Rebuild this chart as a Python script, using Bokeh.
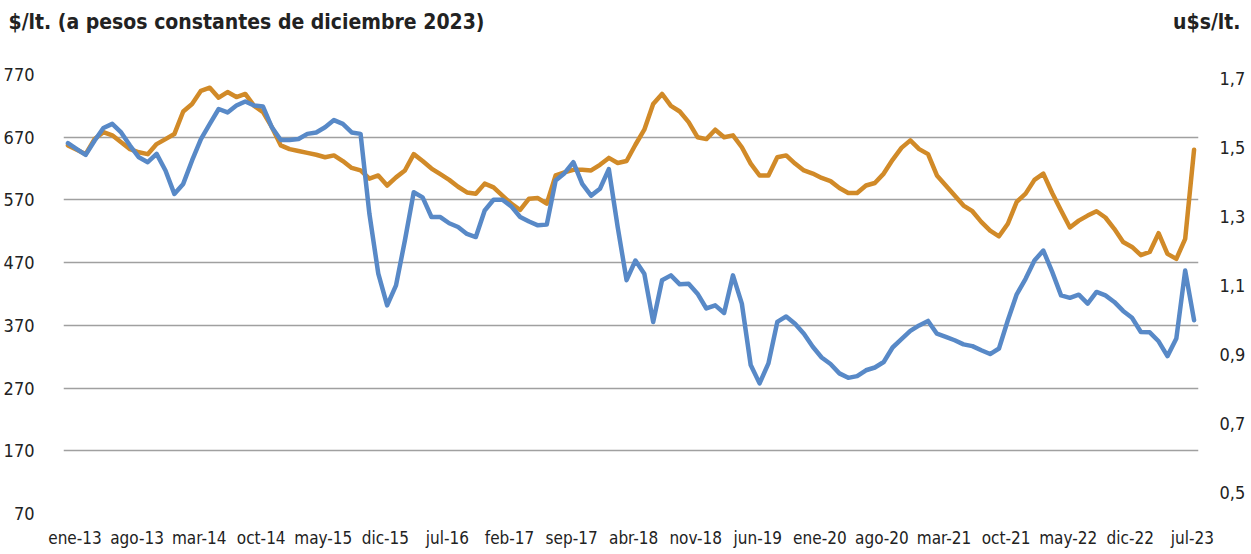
from bokeh.plotting import figure
from bokeh.models import Range1d, LinearAxis, FixedTicker, Label
from bokeh.layouts import column
from bokeh.embed import file_html
from bokeh.resources import INLINE

# Monthly series, ene-13 .. ago-23 (128 months)
precio_pesos = [
    657, 650, 643, 667, 678, 673, 662, 651, 646, 643, 659, 667, 675, 711, 723, 744,
    749, 733, 742, 734, 739, 720, 710, 686, 657, 651, 648, 645, 642, 638, 641, 632,
    621, 617, 604, 609, 593, 606, 617, 643, 632, 620, 611, 602, 591, 582, 580, 596,
    590, 577, 564, 554, 572, 573, 564, 609, 614, 618, 618, 617, 626, 637, 629, 632,
    658, 682, 723, 739, 720, 711, 694, 670, 667, 682, 670, 673, 654, 628, 609, 609,
    638, 641, 628, 617, 612, 605, 600, 589, 581, 581, 593, 597, 612, 634, 653, 665,
    651, 643, 609, 593, 577, 561, 552, 535, 521, 512, 532, 567, 580, 602, 612, 581,
    553, 526, 537, 545, 552, 542, 524, 503, 495, 482, 487, 517, 484, 476, 508, 650,
]
precio_usd = [
    1.513, 1.496, 1.479, 1.520, 1.557, 1.569, 1.544, 1.506, 1.472, 1.458, 1.482, 1.434,
    1.366, 1.395, 1.463, 1.525, 1.569, 1.612, 1.602, 1.622, 1.634, 1.622, 1.619, 1.559,
    1.522, 1.522, 1.525, 1.540, 1.544, 1.559, 1.580, 1.569, 1.544, 1.540, 1.308, 1.135,
    1.043, 1.101, 1.231, 1.371, 1.356, 1.299, 1.299, 1.281, 1.270, 1.250, 1.241, 1.318,
    1.349, 1.349, 1.330, 1.299, 1.286, 1.275, 1.277, 1.405, 1.426, 1.458, 1.395, 1.361,
    1.381, 1.438, 1.270, 1.116, 1.173, 1.135, 0.995, 1.116, 1.130, 1.104, 1.106, 1.077,
    1.034, 1.043, 1.021, 1.130, 1.048, 0.870, 0.817, 0.875, 0.995, 1.011, 0.990, 0.961,
    0.923, 0.892, 0.873, 0.846, 0.833, 0.838, 0.855, 0.863, 0.879, 0.921, 0.945, 0.969,
    0.985, 0.998, 0.961, 0.952, 0.942, 0.930, 0.925, 0.913, 0.902, 0.918, 1.000, 1.075,
    1.120, 1.173, 1.202, 1.140, 1.072, 1.065, 1.074, 1.048, 1.082, 1.072, 1.053, 1.027,
    1.007, 0.966, 0.965, 0.939, 0.896, 0.947, 1.144, 1.000,
]
x_labels = ["ene-13", "ago-13", "mar-14", "oct-14", "may-15", "dic-15", "jul-16",
            "feb-17", "sep-17", "abr-18", "nov-18", "jun-19", "ene-20", "ago-20",
            "mar-21", "oct-21", "may-22", "dic-22", "jul-23"]
left_ticks = [70, 170, 270, 370, 470, 570, 670, 770]
right_ticks = [0.5, 0.7, 0.9, 1.1, 1.3, 1.5, 1.7]
right_labels = ["0,5", "0,7", "0,9", "1,1", "1,3", "1,5", "1,7"]
title_left = "$/lt. (a pesos constantes de diciembre 2023)"
title_right = "u$s/lt."

FONT = "DejaVu Sans Condensed"
ORANGE = "#D18A28"
BLUE = "#5889C7"
TXT = "#222222"

n = len(precio_pesos)
xs = list(range(n))

W = 1248
HT = 64           # title strip
H = 486           # chart
ML, MR, MT, MB = 62, 45, 10, 34

# ---- title strip (own small figure, frame covering the whole strip)
top = figure(width=W, height=HT, x_range=Range1d(0, W), y_range=Range1d(0, HT),
             output_backend="svg", toolbar_location=None,
             x_axis_type=None, y_axis_type=None,
             min_border_left=0, min_border_right=0, min_border_top=0,
             min_border_bottom=0)
top.outline_line_color = None
top.grid.visible = False
top.add_layout(Label(x=8, y=HT - 21, text=title_left, text_font=FONT,
                     text_font_style="bold", text_font_size="21px",
                     text_color=TXT, text_baseline="middle", text_align="left"))
top.add_layout(Label(x=1240, y=HT - 21, text=title_right, text_font=FONT,
                     text_font_style="bold", text_font_size="21px",
                     text_color=TXT, text_baseline="middle", text_align="right"))

# ---- main chart
p = figure(width=W, height=H, x_range=Range1d(-0.5, n - 0.5),
           y_range=Range1d(70, 770), output_backend="svg", toolbar_location=None,
           min_border_left=ML, min_border_right=MR, min_border_top=MT,
           min_border_bottom=MB)
p.extra_y_ranges = {"usd": Range1d(0.44, 1.712)}
p.outline_line_color = None

# do not let the column layout align the two frames
try:
    top.frame_align = False
    p.frame_align = False
except AttributeError:
    pass

tick_pos = [i * 7 + 0.8 for i in range(len(x_labels))]
p.xaxis.ticker = FixedTicker(ticks=tick_pos)
p.xaxis.major_label_overrides = {t: lab for t, lab in zip(tick_pos, x_labels)}
p.xaxis.axis_line_color = None
p.xaxis.major_tick_line_color = None
p.xaxis.minor_tick_line_color = None
p.xaxis.major_label_text_font = FONT
p.xaxis.major_label_text_font_size = "17px"
p.xaxis.major_label_text_color = TXT
p.xaxis.major_label_standoff = 8

p.yaxis.ticker = FixedTicker(ticks=left_ticks)
p.yaxis.axis_line_color = None
p.yaxis.major_tick_line_color = None
p.yaxis.minor_tick_line_color = None
p.yaxis.major_label_text_font = FONT
p.yaxis.major_label_text_font_size = "18px"
p.yaxis.major_label_text_color = TXT
p.yaxis.major_label_standoff = 23

ra = LinearAxis(y_range_name="usd", ticker=FixedTicker(ticks=right_ticks))
ra.major_label_overrides = {t: lab for t, lab in zip(right_ticks, right_labels)}
ra.axis_line_color = None
ra.major_tick_line_color = None
ra.minor_tick_line_color = None
ra.major_label_text_font = FONT
ra.major_label_text_font_size = "18px"
ra.major_label_text_color = TXT
ra.major_label_standoff = 15
p.add_layout(ra, "right")

p.xgrid.visible = False
p.ygrid.ticker = FixedTicker(ticks=left_ticks)
p.ygrid.grid_line_color = "#A0A0A0"
p.ygrid.grid_line_width = 1.5

p.line(xs, precio_pesos, line_color=ORANGE, line_width=4.5,
       line_join="round", line_cap="round")
p.line(xs, precio_usd, line_color=BLUE, line_width=4.5, y_range_name="usd",
       line_join="round", line_cap="round")

layout = column(top, p, spacing=0)
open("out.html", "w").write(file_html(layout, INLINE))
